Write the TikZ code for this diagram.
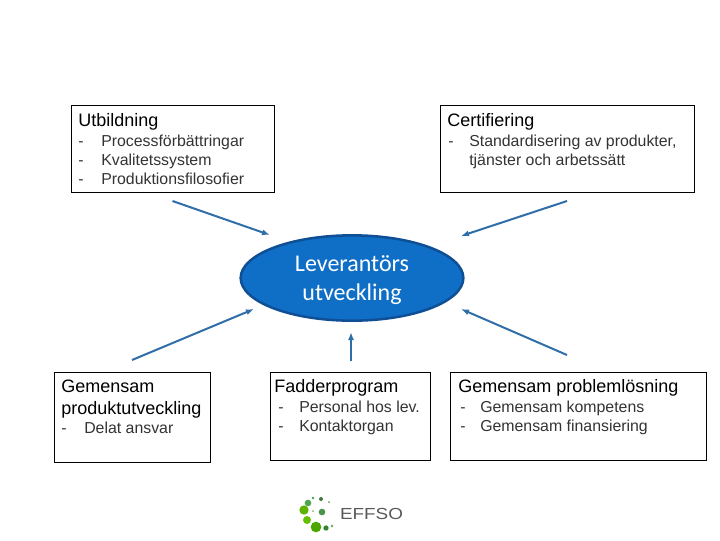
\documentclass[tikz,border=0pt]{standalone}
\usepackage{fontspec}
\setmainfont{Liberation Sans}
\newfontfamily\ovalfont{Carlito}
\usepackage{xcolor}
\usetikzlibrary{arrows.meta, positioning, shapes.geometric}

\definecolor{ovalblue}{HTML}{0F6FC6}
\definecolor{ovaledge}{HTML}{0F4F96}
\definecolor{arrowblue}{HTML}{2F6EA8}

\newcommand{\dashitem}[2][23]{\makebox[#1\unitpx][l]{-}#2}
\newlength{\unitpx}
\setlength{\unitpx}{0.75pt}

\begin{document}
\begin{tikzpicture}[
        x=0.75pt,
        y=-0.75pt,
        box/.style = {
            rectangle,
            draw=black,
            line width=0.75pt,
            anchor=north west,
            inner sep=0pt,
            outer sep=0pt
        },
        heading/.style = {
            anchor=west,
            inner sep=0pt,
            align=left,
            font=\fontsize{13.5}{16.5}\selectfont
        },
        items/.style = {
            anchor=north west,
            inner sep=0pt,
            align=left,
            text=black!80,
            font=\fontsize{11.9}{14.25}\selectfont
        },
        oval/.style = {
            ellipse,
            draw=ovaledge,
            line width=1.9pt,
            fill=ovalblue,
            inner sep=0pt,
            minimum width=167pt,
            minimum height=64pt
        },
        ovaltext/.style = {
            text=white,
            align=center,
            inner sep=0pt,
            font=\ovalfont\fontsize{18}{22}\selectfont
        },
        arrow/.style = {
            -{Latex[length=6pt,width=4.5pt]},
            draw=arrowblue,
            line width=1.5pt
        },
        dot/.style = {
            circle,
            inner sep=0pt,
            fill=#1
        }
    ]

    \useasboundingbox (0,0) rectangle (720,540);

    % Boxes
    \node[box, minimum width=152.25pt, minimum height=65.25pt] (utb) at (71,105) {};
    \node[box, minimum width=190.5pt, minimum height=65.25pt] (cert) at (440,105) {};
    \node[box, minimum width=117pt, minimum height=67.5pt] (prod) at (54,372) {};
    \node[box, minimum width=120pt, minimum height=66pt] (fadder) at (270,372) {};
    \node[box, minimum width=192pt, minimum height=66pt] (problem) at (450,372) {};

    % Centre
    \node[oval] (lev) at (352,278) {};
    \node[ovaltext] (levtext) at ([shift={(0,2)}]lev.center) {Leverantörs\\utveckling};

    % Box texts
    \node[heading] (utbtitle) at ([shift={(7,17)}]utb.north west) {Utbildning};
    \node[items] (utblist) at ([shift={(7,30)}]utb.north west)
        {\dashitem{Processförbättringar}\\\dashitem{Kvalitetssystem}\\\dashitem{Produktionsfilosofier}};
    \node[heading] (certtitle) at ([shift={(7,17)}]cert.north west) {Certifiering};
    \node[items] (certlist) at ([shift={(8,30)}]cert.north west)
        {\dashitem[21]{Standardisering av produkter,}\\\hspace*{21\unitpx}tjänster och arbetssätt};
    \node[heading] (prodtitle) at ([shift={(7,27)}]prod.north west) {Gemensam\\produktutveckling};
    \node[items] (prodlist) at ([shift={(7,50)}]prod.north west) {\dashitem{Delat ansvar}};
    \node[heading] (faddertitle) at ([shift={(4,16)}]fadder.north west) {Fadderprogram};
    \node[items] (fadderlist) at ([shift={(8,29)}]fadder.north west)
        {\dashitem[21]{Personal hos lev.}\\\dashitem[21]{Kontaktorgan}};
    \node[heading] (problemtitle) at ([shift={(8,16)}]problem.north west) {Gemensam problemlösning};
    \node[items] (problemlist) at ([shift={(10,29)}]problem.north west)
        {\dashitem[20]{Gemensam kompetens}\\\dashitem[20]{Gemensam finansiering}};

    % Arrows
    \draw[arrow] ([shift={(0,9)}]utb.south)      -- ([shift={(-82,-43)}]lev.center);
    \draw[arrow] ([shift={(0,9)}]cert.south)     -- ([shift={(109,-42)}]lev.center);
    \draw[arrow] ([shift={(0,-12)}]prod.north)   -- ([shift={(-98,31)}]lev.center);
    \draw[arrow] ([shift={(1,-11)}]fadder.north) -- ([shift={(-1,54)}]lev.center);
    \draw[arrow] ([shift={(-11,-17)}]problem.north) -- ([shift={(109,31)}]lev.center);

    % Logo
    \node[dot=green!45!black!70, minimum size=2.2pt] (d1) at (313,498) {};
    \node[dot=green!30!black!75, minimum size=3pt] (d2) at (321,499) {};
    \node[dot=green!30!black!60, minimum size=1.5pt] (d3) at (329,502) {};
    \node[dot=green!50!black!70, minimum size=5pt] (d4) at (308,503) {};
    \node[dot=lime!70!green!70!black, minimum size=7pt] (d5) at (304,510) {};
    \node[dot=green!40!black!50, minimum size=1.5pt] (d6) at (313,511) {};
    \node[dot=green!40!black!70, minimum size=5pt] (d7) at (322,512) {};
    \node[dot=lime!70!green!75!black, minimum size=6pt] (d8) at (307,520) {};
    \node[dot=lime!60!green!65!black, minimum size=8pt] (d9) at (316,527) {};
    \node[dot=green!40!black!80, minimum size=4pt] (d10) at (326,528) {};
    \node[dot=green!40!black!60, minimum size=2pt] (d11) at (332,526) {};
    \node[inner sep=0pt, text=black!65, font=\fontsize{12}{12}\selectfont] (logo) at (371.5,514)
        {\scalebox{1.18}[1]{EFFSO}};

\end{tikzpicture}
\end{document}
